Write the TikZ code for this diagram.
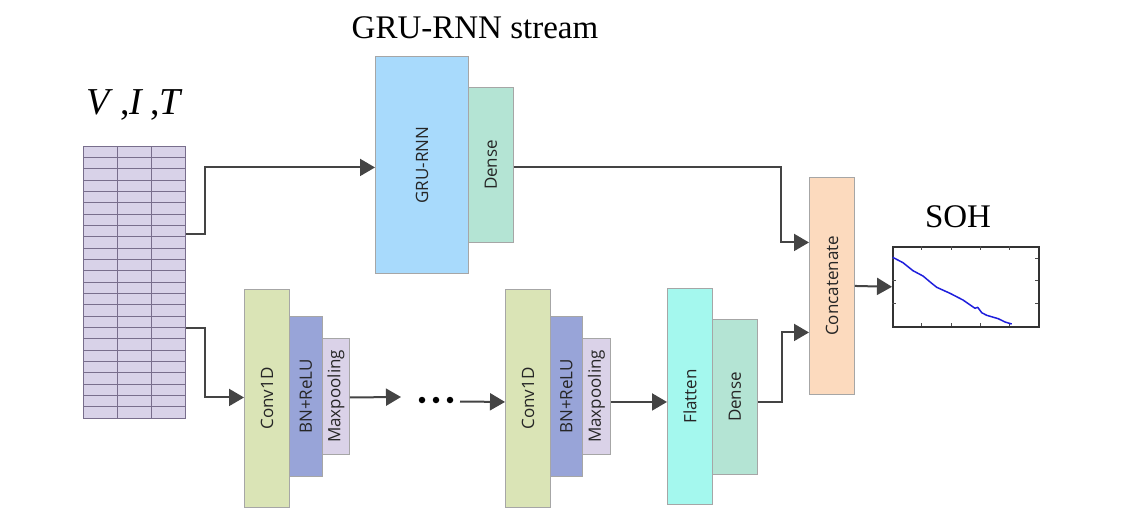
\documentclass[tikz,border=0pt]{standalone}
\usepackage{fontspec}
\setmainfont{Liberation Serif}
\newfontfamily\labelfont{Open Sans}
\usetikzlibrary{arrows.meta,calc}
\definecolor{gridfill}{RGB}{216,210,232}
\definecolor{gridline}{RGB}{120,110,140}
\definecolor{grucol}{RGB}{168,218,252}
\definecolor{densecol}{RGB}{180,228,212}
\definecolor{convcol}{RGB}{218,228,182}
\definecolor{bncol}{RGB}{152,164,216}
\definecolor{poolcol}{RGB}{218,210,232}
\definecolor{flatcol}{RGB}{164,248,238}
\definecolor{catcol}{RGB}{252,218,190}
\definecolor{arrcol}{RGB}{68,68,68}
\definecolor{curvecol}{RGB}{30,30,220}
\tikzset{
  layer/.style={draw=black!35, line width=0.9pt, inner sep=0pt, anchor=north west,
    font=\labelfont\fontsize{17}{17}\selectfont, text=black!85},
  arr/.style={draw=arrcol, line width=2pt, -{Triangle[length=15pt,width=17pt]}},
  dotnode/.style={circle, fill=black, inner sep=0pt, minimum size=6.5pt},
}
\begin{document}
\begin{tikzpicture}[x=1pt,y=-1pt]
\useasboundingbox (0,0) rectangle (1139,528);

% title texts
\node (title) at (475,28) {\fontsize{33}{33}\selectfont GRU-RNN stream};
\node (vit) at (135,105) {\fontsize{38}{38}\selectfont\textit{V}\,,\textit{I}\,,\textit{T}};
\node (soh) at (958,217) {\fontsize{33}{33}\selectfont SOH};

% input grid
\node[draw=gridline, fill=gridfill, line width=0.7pt, inner sep=0pt, anchor=north west,
      minimum width=102pt, minimum height=272pt] (grid) at (83,146) {};
\foreach \i in {1,...,23} {
  \draw[gridline, line width=0.6pt] (83,146+\i*11.333) -- (185,146+\i*11.333);
}
\draw[gridline, line width=0.6pt] (117,146) -- (117,418);
\draw[gridline, line width=0.6pt] (151,146) -- (151,418);

% GRU stream
\node[layer, fill=grucol, minimum width=93pt, minimum height=217pt] (gru) at (375,56) {\rotatebox{90}{GRU-RNN}};
\node[layer, fill=densecol, minimum width=45pt, minimum height=155pt] (dense1) at (468,87) {\rotatebox{90}{Dense}};

% CNN block 1
\node[layer, fill=convcol, minimum width=45pt, minimum height=218pt] (conv1) at (244,289) {\rotatebox{90}{Conv1D}};
\node[layer, fill=bncol, minimum width=33pt, minimum height=160pt] (bn1) at (289,316) {\rotatebox{90}{BN+ReLU}};
\node[layer, fill=poolcol, minimum width=27pt, minimum height=116pt] (pool1) at (322,338) {\rotatebox{90}{Maxpooling}};

% dots
\node[dotnode] (d1) at (422,400) {};
\node[dotnode] (d2) at (436,400) {};
\node[dotnode] (d3) at (450,400) {};

% CNN block 2
\node[layer, fill=convcol, minimum width=45pt, minimum height=218pt] (conv2) at (505,289) {\rotatebox{90}{Conv1D}};
\node[layer, fill=bncol, minimum width=32pt, minimum height=160pt] (bn2) at (550,316) {\rotatebox{90}{BN+ReLU}};
\node[layer, fill=poolcol, minimum width=28pt, minimum height=116pt] (pool2) at (582,338) {\rotatebox{90}{Maxpooling}};

% flatten/dense
\node[layer, fill=flatcol, minimum width=45pt, minimum height=216pt] (flat) at (667,288) {\rotatebox{90}{Flatten}};
\node[layer, fill=densecol, minimum width=45pt, minimum height=155pt] (dense2) at (712,319) {\rotatebox{90}{Dense}};

% concatenate
\node[layer, fill=catcol, minimum width=45pt, minimum height=217pt] (cat) at (809,177) {\rotatebox{90}{Concatenate}};

% SOH plot
\node[draw=black!80, line width=1.6pt, inner sep=0pt, anchor=north west,
      minimum width=146pt, minimum height=80pt] (plot) at (892,246) {};
\foreach \x in {921.7,951.7,980,1009} {
  \draw[black!70, line width=0.8pt] (\x,246) -- (\x,249.5);
  \draw[black!70, line width=0.8pt] (\x,326) -- (\x,322.5);
}
\foreach \y in {258,280,303} {
  \draw[black!70, line width=0.8pt] (1038,\y) -- (1034.5,\y);
  \draw[black!70, line width=0.8pt] (892,\y) -- (895.5,\y);
}
\draw[curvecol, line width=1.5pt, line join=round]
  (892.7,257.3) -- (903,262.7) -- (913,270.7) -- (923,276) -- (931.7,283.3) -- (936.7,287.3)
  -- (950,293.3) -- (963,300) -- (975,308.3) -- (977.7,307.3) -- (981.7,312.7) -- (986.7,315.3)
  -- (998.3,318.7) -- (1005,322) -- (1011.7,324);

% coordinates for connector ends (offsets in pixel units, y downward)
\coordinate (gin) at ($(gru.west)+(0,2.5)$);
\coordinate (gridout1) at ($(grid.north east)+(0,88)$);
\coordinate (gridout2) at ($(grid.north east)+(0,182)$);
\coordinate (cat1) at ($(cat.west)+(0,-43.5)$);
\coordinate (cat2) at ($(cat.west)+(0,46.5)$);
\coordinate (d1out) at ($(dense1.east)+(0,2.5)$);
\coordinate (d2out) at ($(dense2.east)+(0,5.5)$);
\coordinate (flatin) at ($(flat.west)+(0,5.5)$);
\coordinate (c1in) at ($(conv1.west)+(0,-1)$);
\coordinate (p1out) at ($(pool1.east)+(0,1)$);
\coordinate (dotsin) at ($(d1.center)+(-21,-3)$);
\coordinate (dotsout) at ($(d3.center)+(10,1.5)$);
\coordinate (c2in) at ($(conv2.west)+(0,3.5)$);
\coordinate (p2out) at ($(pool2.east)+(0,5.5)$);

% connectors
\draw[arr] (gridout1) -- ++(19,0) |- (gin);
\draw[arr] (gridout2) -- ++(19,0) |- (c1in);
\draw[arr] (d1out) -| ($(cat1)+(-28,0)$) -- (cat1);
\draw[arr] (d2out) -| ($(cat2)+(-27,0)$) -- (cat2);
\draw[arr] (p1out) -- (dotsin);
\draw[arr] (dotsout) -- (c2in);
\draw[arr] (p2out) -- (flatin);
\draw[arr] (cat.east) -- (plot.west);
\end{tikzpicture}
\end{document}
